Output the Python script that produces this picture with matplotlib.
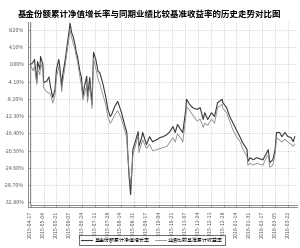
import matplotlib
matplotlib.use("Agg")
import matplotlib.pyplot as plt
import pandas as pd

plt.rcParams['font.family'] = ['Noto Sans CJK SC', 'DejaVu Sans']

dates = ["2015-04-17", "2015-04-20", "2015-04-22", "2015-04-25", "2015-04-26", "2015-04-29",
         "2015-04-30", "2015-05-03", "2015-05-04", "2015-05-08", "2015-05-11", "2015-05-13",
         "2015-05-16", "2015-05-19", "2015-05-21", "2015-05-24", "2015-05-25", "2015-05-28",
         "2015-05-29", "2015-06-01", "2015-06-04", "2015-06-08", "2015-06-10", "2015-06-12",
         "2015-06-14", "2015-06-16", "2015-06-18", "2015-06-21", "2015-06-23", "2015-06-25",
         "2015-06-27", "2015-06-30", "2015-07-01", "2015-07-04", "2015-07-07", "2015-07-09",
         "2015-07-12", "2015-07-15", "2015-07-17", "2015-07-21", "2015-07-25", "2015-07-28",
         "2015-07-31", "2015-08-02", "2015-08-06", "2015-08-10", "2015-08-15", "2015-08-19",
         "2015-08-22", "2015-08-23", "2015-08-25", "2015-08-27", "2015-08-29", "2015-08-30",
         "2015-09-03", "2015-09-06", "2015-09-07", "2015-09-11", "2015-09-12", "2015-09-17",
         "2015-09-21", "2015-09-25", "2015-10-01", "2015-10-05", "2015-10-09", "2015-10-14",
         "2015-10-18", "2015-10-22", "2015-10-25", "2015-10-28", "2015-11-03", "2015-11-04",
         "2015-11-08", "2015-11-09", "2015-11-13", "2015-11-17", "2015-11-23", "2015-11-27",
         "2015-12-01", "2015-12-03", "2015-12-07", "2015-12-12", "2015-12-16", "2015-12-20",
         "2015-12-26", "2015-12-27", "2016-01-01", "2016-01-05", "2016-01-09", "2016-01-15",
         "2016-01-19", "2016-01-22", "2016-01-28", "2016-01-29", "2016-02-01", "2016-02-05",
         "2016-02-10", "2016-02-14", "2016-02-18", "2016-02-23", "2016-02-25", "2016-02-27",
         "2016-03-02", "2016-03-05", "2016-03-07", "2016-03-11", "2016-03-14", "2016-03-18",
         "2016-03-22", "2016-03-26", "2016-03-29", "2016-03-31"]

fund = [0.0, 0.5, 1.2, -4.3, 0.7, -1.2, 1.9, 0.0, -4.3, -4.0, -3.0, -5.2,
        -7.9, -6.0, -1.2, 1.2, 0.0, -5.2, -2.8, 0.5, 4.3, 9.8, 7.6, 6.7,
        5.2, 3.1, 1.7, -1.7, -3.1, -7.6, -5.2, -2.8, -7.6, -3.1, -9.5, 2.9,
        1.2, -1.7, -1.9, -4.3, -7.6, -10.7, -12.4, -11.9, -10.0, -8.8, -11.5, -14.3,
        -16.2, -20.3, -26.7, -31.0, -24.3, -20.3, -17.9, -16.0, -19.5, -17.2, -16.2, -19.1,
        -17.2, -18.4, -17.9, -17.4, -17.2, -16.7, -16.0, -14.8, -16.2, -14.3, -16.0, -16.2,
        -10.7, -8.3, -9.5, -10.3, -10.7, -10.3, -13.1, -11.5, -13.1, -11.5, -12.4, -9.1,
        -8.3, -9.1, -10.3, -12.4, -13.8, -16.0, -17.4, -18.6, -20.3, -23.1, -22.2, -22.7,
        -22.2, -22.5, -22.7, -21.0, -20.3, -23.4, -22.7, -20.3, -16.2, -16.2, -17.2, -16.2,
        -17.2, -17.4, -18.4, -17.2]

bench = [-0.3, -1.5, -0.5, -4.8, -1.0, -2.5, 0.5, -1.5, -5.5, -6.5, -6.8, -7.0,
         -9.2, -7.5, -3.0, -0.5, -1.5, -6.5, -4.5, -1.0, 3.0, 8.3, 6.5, 5.0,
         4.0, 2.0, 0.5, -3.0, -5.0, -8.5, -7.0, -5.0, -9.0, -5.0, -10.5, 1.5,
         -1.0, -3.5, -4.5, -7.0, -9.5, -12.5, -14.0, -13.5, -12.0, -11.0, -13.0, -15.5,
         -17.5, -21.0, -25.5, -28.5, -24.5, -21.5, -19.0, -17.0, -21.0, -18.5, -18.0, -20.0,
         -19.0, -20.5, -20.3, -20.0, -19.8, -19.5, -18.5, -17.5, -18.5, -16.5, -18.0, -18.5,
         -12.5, -10.0, -11.0, -12.0, -13.5, -13.0, -15.0, -14.0, -14.5, -13.0, -14.0, -10.3,
         -9.5, -10.5, -11.5, -13.5, -15.5, -17.5, -18.5, -20.0, -22.0, -24.0, -23.5, -24.0,
         -23.5, -23.8, -24.0, -22.0, -21.5, -24.5, -24.0, -21.5, -17.5, -18.0, -18.5, -17.8,
         -18.5, -19.0, -19.5, -19.0]

y_ticks = [8.2, 4.1, 0.0, -4.1, -8.2, -12.3, -16.4, -20.5, -24.6, -28.7, -32.8]
x_ticks = pd.date_range("2015-04-17", periods=21, freq="17D")

title = "基金份额累计净值增长率与同期业绩比较基准收益率的历史走势对比图"
label_fund = "基金份额累计净值增长率"
label_bench = "业绩比较基准累计收益率"

d = pd.to_datetime(dates)

fig = plt.figure(figsize=(3.0, 2.48), dpi=100)
ax = fig.add_axes([0.10, 0.173, 0.89, 0.738])

ax.plot(d, fund, color="#3a3a3a", lw=0.8, label=label_fund)
ax.plot(d, bench, color="#8a8a8a", lw=0.6, label=label_bench)

ax.set_xlim(pd.Timestamp("2015-04-16"), pd.Timestamp("2016-04-03"))
ax.set_ylim(-33.5, 10.1)
ax.set_yticks(y_ticks)
ax.set_yticklabels(["%.2f%%" % v for v in y_ticks])
ax.set_xticks(x_ticks)
ax.set_xticklabels([t.strftime("%Y-%m-%d") for t in x_ticks], rotation=90)
ax.tick_params(labelsize=3.8, colors="#555555", length=1.5, width=0.4, pad=2.5)

ax.grid(True, linestyle=":", color="#b5b5b5", lw=0.5)
for s in ["top", "right"]:
    ax.spines[s].set_visible(False)
for s in ["left", "bottom"]:
    ax.spines[s].set_color("#777777")
    ax.spines[s].set_linewidth(0.6)

# double axis lines like the original
ax.plot([-0.007, -0.007], [-0.012, 1], transform=ax.transAxes, color="#777777",
        lw=0.6, clip_on=False)
ax.plot([-0.007, 1], [-0.012, -0.012], transform=ax.transAxes, color="#777777",
        lw=0.6, clip_on=False)

fig.text(0.5, 0.944, title, ha="center", va="center", fontsize=6.1, fontweight="bold")

fig.legend(loc="center", bbox_to_anchor=(0.507, 0.032), ncol=2, fontsize=3.6,
           frameon=True, fancybox=False, edgecolor="black", handlelength=2.2,
           borderpad=0.4, columnspacing=1.0, handletextpad=0.5).get_frame().set_linewidth(0.5)

fig.savefig("out.png", dpi=100)
